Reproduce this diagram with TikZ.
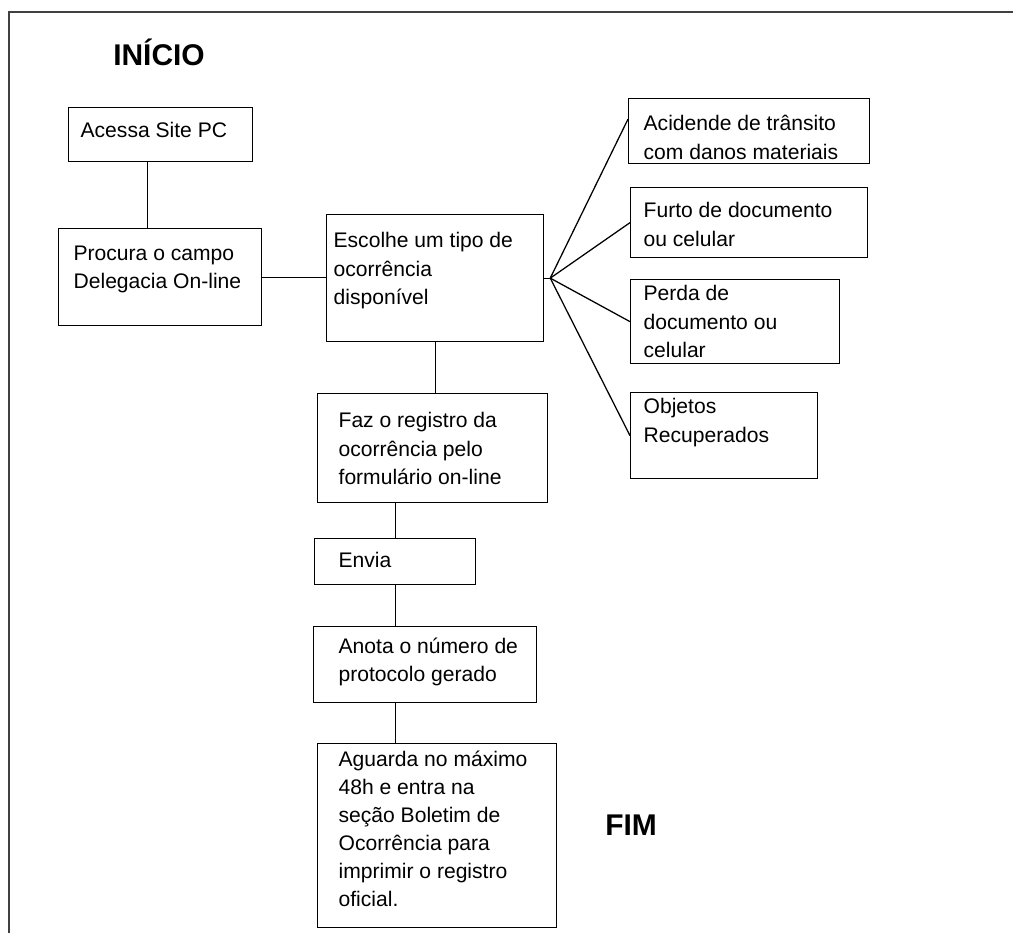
\documentclass[tikz,border=0pt]{standalone}
\usepackage{fontspec}
\setmainfont{Liberation Sans}
\usetikzlibrary{calc}

% box body: width, height, left pad, top gap, lines
\newcommand{\boxbody}[5]{\hspace*{#3}\parbox[t][#2][t]{\dimexpr#1-#3\relax}{\raggedright\vspace*{#4}#5}}

\begin{document}
\begin{tikzpicture}[
  font=\fontsize{15}{20}\selectfont,
  box/.style={draw, line width=0.9pt, anchor=north west, inner sep=0pt},
  link/.style={line width=0.9pt},
  title/.style={anchor=base west, inner sep=0pt, font=\fontsize{21.3}{24}\selectfont\bfseries},
]
\useasboundingbox (0,0) rectangle (25.325,-23.325);

% ---- frame ----
\draw[line width=1.2pt, black!75] (0.225,-23.325) -- (0.225,-0.3) -- (25.325,-0.3);

% ---- start / end ----
\node[title] (inicio) at (2.825,-1.65) {INÍCIO};
\node[title] (fim) at (15.125,-20.875) {FIM};

% ---- left column ----
\node[box] (acessa) at (1.7,-2.675) {\boxbody{4.6cm}{1.35cm}{0.3cm}{0.375cm}{Acessa Site PC}};
\node[box] (procura) at (1.45,-5.7) {\boxbody{5.075cm}{2.425cm}{0.375cm}{0.425cm}{Procura o campo\\Delegacia On-line}};

% ---- main column ----
\node[box] (escolhe) at (8.15,-5.35) {\boxbody{5.425cm}{3.175cm}{0.175cm}{0.45cm}{Escolhe um tipo de\\ocorrência\\disponível}};
\node[box] (faz) at (7.925,-9.825) {\boxbody{5.75cm}{2.725cm}{0.525cm}{0.475cm}{Faz o registro da\\ocorrência pelo\\formulário on-line}};
\node[box] (envia) at (7.85,-13.45) {\boxbody{4.025cm}{1.15cm}{0.6cm}{0.35cm}{Envia}};
\node[box] (anota) at (7.825,-15.65) {\boxbody{5.575cm}{1.9cm}{0.625cm}{0.275cm}{Anota o número de\\protocolo gerado}};
\node[box] (aguarda) at (7.925,-18.575) {\boxbody{5.975cm}{4.6cm}{0.525cm}{0.175cm}{Aguarda no máximo\\48h e entra na\\seção Boletim de\\Ocorrência para\\imprimir o registro\\oficial.}};

% ---- types of report ----
\node[box] (acid) at (15.7,-2.45) {\boxbody{6.025cm}{1.625cm}{0.375cm}{0.425cm}{Acidende de trânsito\\com danos materiais}};
\node[box] (furto) at (15.75,-4.675) {\boxbody{5.925cm}{1.75cm}{0.325cm}{0.375cm}{Furto de documento\\ou celular}};
\node[box] (perda) at (15.75,-6.975) {\boxbody{5.225cm}{2.1cm}{0.325cm}{0.15cm}{Perda de\\documento ou\\celular}};
\node[box] (objetos) at (15.75,-9.8) {\boxbody{4.675cm}{2.15cm}{0.325cm}{0.15cm}{Objetos\\Recuperados}};

% ============ links ============
\draw[link] ([xshift=-0.325cm]acessa.south) -- ([xshift=-0.325cm]acessa.south |- procura.north);
\draw[link] (procura.east) -- (procura.east -| escolhe.west);

% fan out to the report types
\coordinate (fan) at ([xshift=0.15cm]escolhe.east);
\draw[link] (escolhe.east) -- (fan);
\draw[link] (fan) -- ([yshift=0.3cm]acid.west);
\draw[link] (fan) -- (furto.west);
\draw[link] (fan) -- (perda.west);
\draw[link] (fan) -- (objetos.west);

% down the main column
\draw[link] (escolhe.south) -- (escolhe.south |- faz.north);
\draw[link] (envia.north |- faz.south) -- (envia.north);
\draw[link] (envia.south) -- (envia.south |- anota.north);
\draw[link] (envia.south |- anota.south) -- (envia.south |- aguarda.north);

\end{tikzpicture}
\end{document}
